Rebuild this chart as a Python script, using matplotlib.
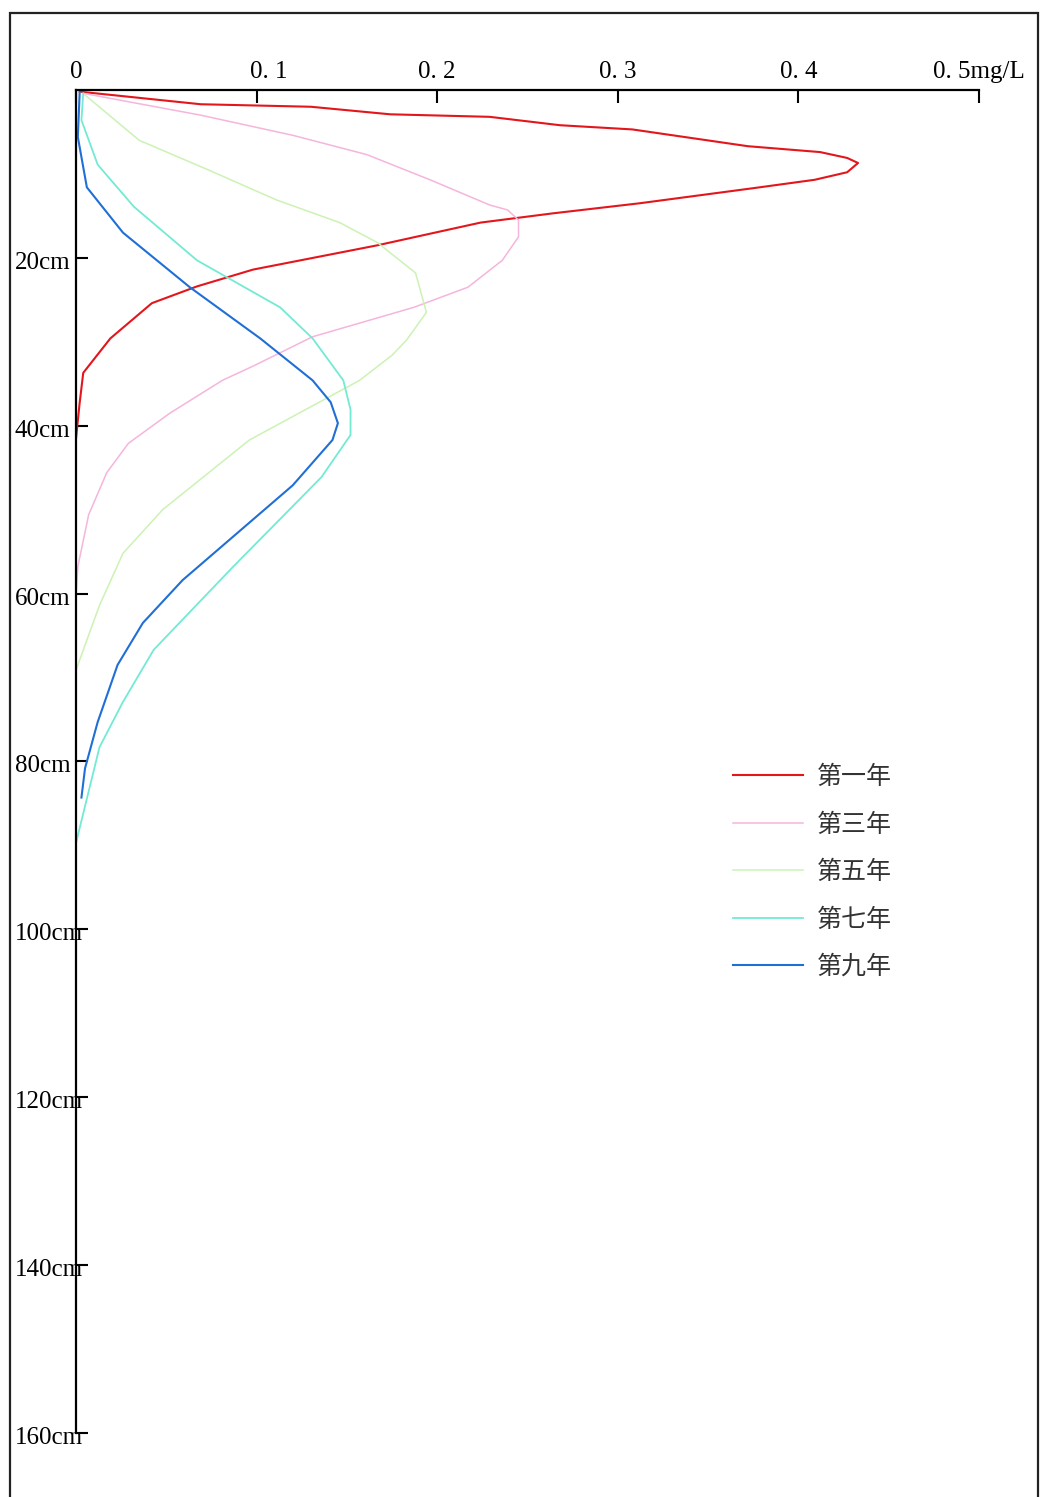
import matplotlib
matplotlib.use("Agg")
import matplotlib.pyplot as plt
from matplotlib.patches import Rectangle
from matplotlib.transforms import ScaledTranslation

plt.rcParams['font.family'] = ['Liberation Serif', 'Noto Sans CJK SC', 'DejaVu Sans']

# depth (cm) and concentration (mg/L) for each year
depth_y1 = [0.2, 1.7, 2.0, 2.9, 3.2, 4.2, 4.7, 6.7, 7.4, 8.1, 8.7, 9.8, 10.7, 11.7, 13.5,
            14.7, 15.8, 18.5, 21.4, 23.4, 25.4, 29.6, 33.7, 37.3, 41.5]
conc_y1 = [0.002, 0.069, 0.130, 0.174, 0.229, 0.268, 0.308, 0.372, 0.412, 0.427, 0.433,
           0.427, 0.409, 0.375, 0.312, 0.264, 0.224, 0.167, 0.098, 0.067, 0.042, 0.019,
           0.004, 0.002, 0.0]

depth_y3 = [0.4, 3.0, 5.4, 7.7, 10.7, 13.7, 14.3, 15.5, 17.5, 20.3, 23.5, 25.9, 29.4,
            32.8, 34.6, 38.5, 42.1, 45.6, 50.6, 56.8, 60.2]
conc_y3 = [0.004, 0.069, 0.120, 0.161, 0.196, 0.229, 0.239, 0.245, 0.245, 0.236, 0.217,
           0.187, 0.131, 0.099, 0.081, 0.052, 0.029, 0.017, 0.007, 0.001, 0.0]

depth_y5 = [0.6, 6.0, 9.5, 13.1, 15.8, 18.2, 21.8, 26.5, 29.8, 31.6, 34.6, 41.7, 50.0,
            55.2, 61.4, 69.1]
conc_y5 = [0.005, 0.035, 0.073, 0.111, 0.146, 0.167, 0.188, 0.194, 0.183, 0.175, 0.157,
           0.096, 0.048, 0.026, 0.013, 0.0]

depth_y7 = [0.4, 3.6, 8.9, 13.9, 20.3, 25.9, 29.6, 34.6, 38.1, 41.1, 46.1, 56.8, 66.7,
            72.9, 78.3, 89.7]
conc_y7 = [0.004, 0.003, 0.012, 0.032, 0.067, 0.113, 0.131, 0.148, 0.152, 0.152, 0.136,
           0.087, 0.043, 0.026, 0.013, 0.0]

depth_y9 = [0.4, 5.6, 11.6, 17.0, 23.5, 29.6, 34.6, 37.2, 39.7, 41.7, 47.1, 58.4, 63.5,
            68.5, 75.3, 80.8, 84.3]
conc_y9 = [0.002, 0.001, 0.006, 0.026, 0.063, 0.102, 0.131, 0.141, 0.145, 0.142, 0.120,
           0.059, 0.037, 0.023, 0.012, 0.005, 0.003]

labels = ['第一年', '第三年', '第五年', '第七年', '第九年']
colors = ['#e3161c', '#f5b5dc', '#ccf2b4', '#72ead4', '#1f6fd6']
widths = [1.5, 1.1, 1.1, 1.3, 1.5]

x_ticks = [0, 0.1, 0.2, 0.3, 0.4, 0.5]
x_ticklabels = ['0', '0. 1', '0. 2', '0. 3', '0. 4', '0. 5mg/L']
y_ticks = [20, 40, 60, 80, 100, 120, 140, 160]
y_ticklabels = ['20cm', '40cm', '60cm', '80cm', '100cm', '120cm', '140cm', '160cm']

fig = plt.figure(figsize=(10.4, 14.97), dpi=100)
ax = fig.add_axes([0.0731, 0.0428, 0.8683, 0.8971])

series = [(conc_y1, depth_y1), (conc_y3, depth_y3), (conc_y5, depth_y5),
          (conc_y7, depth_y7), (conc_y9, depth_y9)]
for (c, d), lab, col, lw in zip(series, labels, colors, widths):
    ax.plot(c, d, color=col, lw=lw, label=lab)

ax.set_xlim(0, 0.5)
ax.set_ylim(160, 0)
for s in ['right', 'bottom']:
    ax.spines[s].set_visible(False)
ax.spines['top'].set_linewidth(1.6)
ax.spines['left'].set_linewidth(1.6)

ax.xaxis.tick_top()
ax.set_xticks(x_ticks)
ax.set_xticklabels(x_ticklabels, fontsize=18)
ax.tick_params(axis='x', direction='in', length=9.5, width=1.5, pad=5)
# the 0.1 label sits a little right of its tick
lab01 = ax.get_xticklabels()[1]
lab01.set_transform(lab01.get_transform() + ScaledTranslation(0.12, 0, fig.dpi_scale_trans))

ax.set_yticks(y_ticks)
ax.set_yticklabels(y_ticklabels, fontsize=18)
ax.tick_params(axis='y', direction='in', length=8.5, width=1.5, pad=44)
for t in ax.get_yticklabels():
    t.set_horizontalalignment('left')
    t.set_verticalalignment('center')
    t.set_transform(t.get_transform() + ScaledTranslation(0, -0.05, fig.dpi_scale_trans))

leg = ax.legend(loc='upper left', bbox_to_anchor=(0.7048, 0.4896),
                bbox_transform=fig.transFigure, frameon=False,
                prop={'family': ['Noto Sans CJK SC'], 'size': 18},
                handlelength=2.8, handletextpad=0.56, labelspacing=0.86,
                borderpad=0, borderaxespad=0)
for t in leg.get_texts():
    t.set_color('#333333')

# outer frame around the figure
fig.patches.append(Rectangle((0.0096, -0.02), 0.9884, 1.0113, transform=fig.transFigure,
                             fill=False, edgecolor='#222222', lw=1.6))

fig.savefig('out.png', dpi=100, facecolor='white')
